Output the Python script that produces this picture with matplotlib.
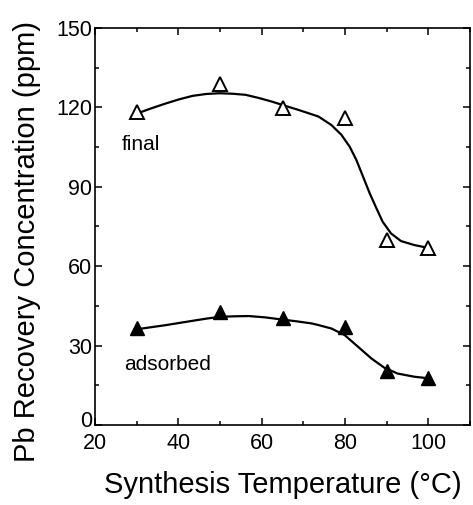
import matplotlib
matplotlib.use("Agg")
import matplotlib.pyplot as plt
from matplotlib.ticker import MultipleLocator, FuncFormatter

plt.rcParams['font.family'] = ['Liberation Sans', 'DejaVu Sans']

# measured points
temp = [30, 50, 65, 80, 90, 100]
final = [118.3, 128.8, 119.8, 116.0, 69.9, 66.9]
adsorbed = [36.6, 42.7, 40.4, 37.0, 20.4, 18.0]

# fitted curves
final_fit_x = [30, 33.5, 37.1, 40.2, 43.4, 46.6, 49.8, 53.0, 56.1, 59.3, 62.5, 65.5,
               68.8, 71.5, 73.6, 76.7, 79.1, 81.1, 82.7, 84.3, 85.9, 87.5, 89.0,
               91.0, 93.4, 96.6, 100]
final_fit_y = [117.6, 119.6, 121.5, 123.0, 124.3, 125.0, 125.3, 125.1, 124.7, 123.5,
               122.1, 120.6, 119.0, 117.6, 116.5, 113.3, 109.6, 105.1, 100.1, 93.8,
               87.5, 81.9, 76.8, 72.4, 69.5, 68.0, 66.9]
ads_fit_x = [30, 33.5, 37.1, 40.2, 43.4, 46.6, 49.8, 53.3, 56.9, 60.8, 64.8, 68.4,
             72.0, 73.6, 76.7, 79.9, 83.1, 86.3, 89.4, 92.6, 96.6, 100]
ads_fit_y = [36.2, 37.0, 37.8, 38.6, 39.4, 40.2, 40.9, 41.1, 41.2, 40.7, 39.9, 39.2,
             38.4, 37.8, 36.5, 34.0, 29.6, 25.2, 21.7, 19.5, 18.3, 17.7]

fig = plt.figure(figsize=(4.73, 5.05), dpi=100)
ax = fig.add_axes([0.201, 0.158, 0.793, 0.787])

ax.plot(final_fit_x, final_fit_y, color='black', lw=1.6)
ax.plot(ads_fit_x, ads_fit_y, color='black', lw=1.6)
ax.plot(temp, final, ls='none', marker='^', ms=10, mfc='white', mec='black', mew=1.4)
ax.plot(temp, adsorbed, ls='none', marker='^', ms=10, mfc='black', mec='black', mew=1.0)

ax.text(26.4, 106, 'final', fontsize=15, va='center', ha='left')
ax.text(27.0, 23.0, 'adsorbed', fontsize=15, va='center', ha='left')

ax.set_xlim(20, 110)
ax.set_ylim(0, 150)
ax.xaxis.set_major_locator(MultipleLocator(20))
ax.xaxis.set_minor_locator(MultipleLocator(10))
ax.yaxis.set_major_locator(MultipleLocator(30))
ax.yaxis.set_minor_locator(MultipleLocator(15))
# the "0" is drawn by hand below, a bit higher, so it sits above the "20"
ax.yaxis.set_major_formatter(FuncFormatter(lambda v, p: '' if v == 0 else '%d' % v))
ax.tick_params(which='both', direction='in', top=True, right=True, width=1.1)
ax.tick_params(which='major', length=5, labelsize=15.5)
ax.tick_params(which='minor', length=3)
ax.tick_params(axis='x', pad=5.5)
ax.tick_params(axis='y', pad=2)
for s in ax.spines.values():
    s.set_linewidth(1.2)

ax.annotate('0', xy=(0, 0), xycoords=('axes fraction', 'data'),
            xytext=(-2, 3), textcoords='offset points',
            ha='right', va='center', fontsize=15.5)

ax.set_xlabel('Synthesis Temperature (°C)', fontsize=21, labelpad=12)
ax.set_ylabel('Pb Recovery Concentration (ppm)', fontsize=21)
ax.yaxis.set_label_coords(-0.145, 0.463)

fig.savefig('out.png', dpi=100)
